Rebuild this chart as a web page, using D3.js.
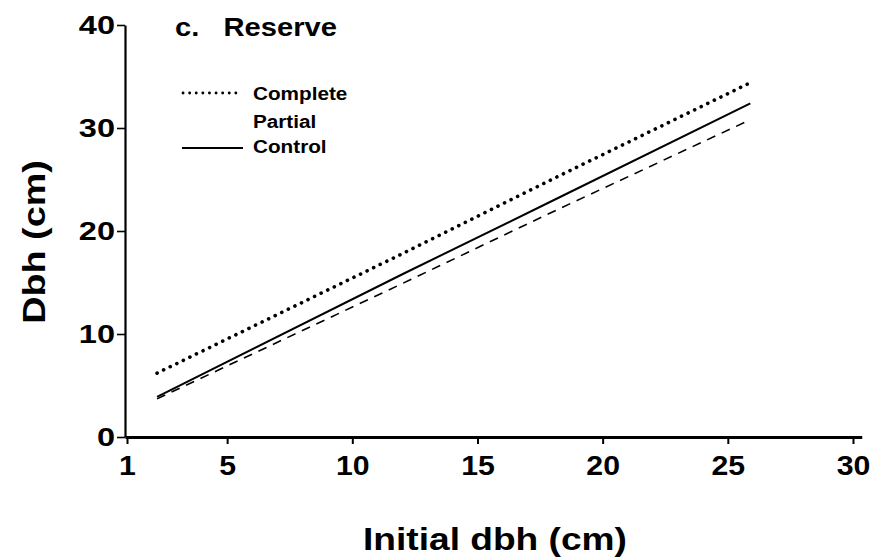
<!DOCTYPE html>
<html>
<head>
<meta charset="utf-8">
<script src="https://cdn.jsdelivr.net/npm/d3@7"></script>
<style>
  body { margin: 0; background: #fff; }
  svg { display: block; font-family: "Liberation Sans", Arial, sans-serif; }
</style>
</head>
<body>
<div id="chart"></div>
<script>
const width = 873;
const height = 560;

// values
const initialDbh = [2.2, 12, 18.3, 25.9];
const completeDbh = [6.2, 17.8, 25.4, 34.4];
const partialDbh = [3.7, 14.9, 22.2, 30.8];
const controlDbh = [3.9, 15.8, 23.3, 32.4];

const xTicks = [1, 5, 10, 15, 20, 25, 30];
const yTicks = [0, 10, 20, 30, 40];

const svg = d3.select('#chart')
  .append('svg')
  .attr('width', width)
  .attr('height', height);

// the original lettering is a bit wider than Liberation Sans
function stretch(sel, k) {
  sel.each(function() {
    const w = this.getComputedTextLength();
    d3.select(this)
      .attr('textLength', w * k)
      .attr('lengthAdjust', 'spacingAndGlyphs');
  });
}

const x = d3.scaleLinear().domain([0.92, 30.35]).range([125, 861.75]);
const y = d3.scaleLinear().domain([0, 40]).range([437, 25]);

// axes
const xAxis = svg.append('g')
  .attr('transform', `translate(0,${y(0)})`)
  .call(d3.axisBottom(x).tickValues(xTicks).tickSize(7).tickSizeOuter(0).tickPadding(11));
xAxis.select('.domain').attr('stroke-width', 3.2);
xAxis.selectAll('.tick line').attr('stroke-width', 2);
xAxis.selectAll('.tick text')
  .attr('font-size', 28).attr('font-weight', 'bold').attr('fill', '#000')
  .attr('font-family', '"Liberation Sans", Arial, sans-serif')
  .call(stretch, 1.08);

const yAxis = svg.append('g')
  .attr('transform', `translate(${x(0.92)},0)`)
  .call(d3.axisLeft(y).tickValues(yTicks).tickSize(8).tickSizeOuter(0).tickPadding(2));
yAxis.select('.domain').attr('stroke-width', 2.2);
yAxis.selectAll('.tick line').attr('stroke-width', 1.6);
yAxis.selectAll('.tick text')
  .attr('font-size', 26).attr('font-weight', 'bold').attr('fill', '#000')
  .attr('font-family', '"Liberation Sans", Arial, sans-serif')
  .call(stretch, 1.25);

// lines
const series = [
  { name: 'Complete', values: completeDbh, dash: '0.1 7.2', width: 3.6, cap: 'round' },
  { name: 'Partial', values: partialDbh, dash: '9 7', width: 1.6, cap: 'butt' },
  { name: 'Control', values: controlDbh, dash: null, width: 2, cap: 'butt' }
];

const line = d3.line()
  .x(d => x(d[0]))
  .y(d => y(d[1]));

svg.append('g')
  .selectAll('path')
  .data(series)
  .enter().append('path')
  .attr('d', s => line(initialDbh.map((v, i) => [v, s.values[i]])))
  .attr('fill', 'none')
  .attr('stroke', '#000')
  .attr('stroke-width', s => s.width)
  .attr('stroke-linecap', s => s.cap)
  .attr('stroke-dasharray', s => s.dash);

// title
svg.append('text')
  .attr('x', 175)
  .attr('y', 36)
  .attr('font-size', 26)
  .attr('font-weight', 'bold')
  .attr('xml:space', 'preserve')
  .text('c.   Reserve')
  .call(stretch, 1.12);

// legend (the Partial entry has no sample line in the original)
const legend = svg.append('g');
legend.append('line')
  .attr('x1', 183).attr('x2', 242).attr('y1', 93).attr('y2', 93)
  .attr('stroke', '#000').attr('stroke-width', 2.8)
  .attr('stroke-linecap', 'round').attr('stroke-dasharray', '0.1 6.5');
legend.append('line')
  .attr('x1', 182).attr('x2', 243).attr('y1', 148).attr('y2', 148)
  .attr('stroke', '#000').attr('stroke-width', 2.2);

legend.selectAll('text')
  .data([['Complete', 100], ['Partial', 128], ['Control', 153]])
  .enter().append('text')
  .attr('x', 253)
  .attr('y', d => d[1])
  .attr('font-size', 18)
  .attr('font-weight', 'bold')
  .text(d => d[0])
  .call(stretch, 1.15);

// axis titles
svg.append('text')
  .attr('x', 495)
  .attr('y', 550)
  .attr('text-anchor', 'middle')
  .attr('font-size', 32)
  .attr('font-weight', 'bold')
  .text('Initial dbh (cm)')
  .call(stretch, 1.16);

svg.append('text')
  .attr('transform', 'translate(45,242) rotate(-90)')
  .attr('text-anchor', 'middle')
  .attr('font-size', 32)
  .attr('font-weight', 'bold')
  .text('Dbh (cm)')
  .call(stretch, 1.18);
</script>
</body>
</html>
